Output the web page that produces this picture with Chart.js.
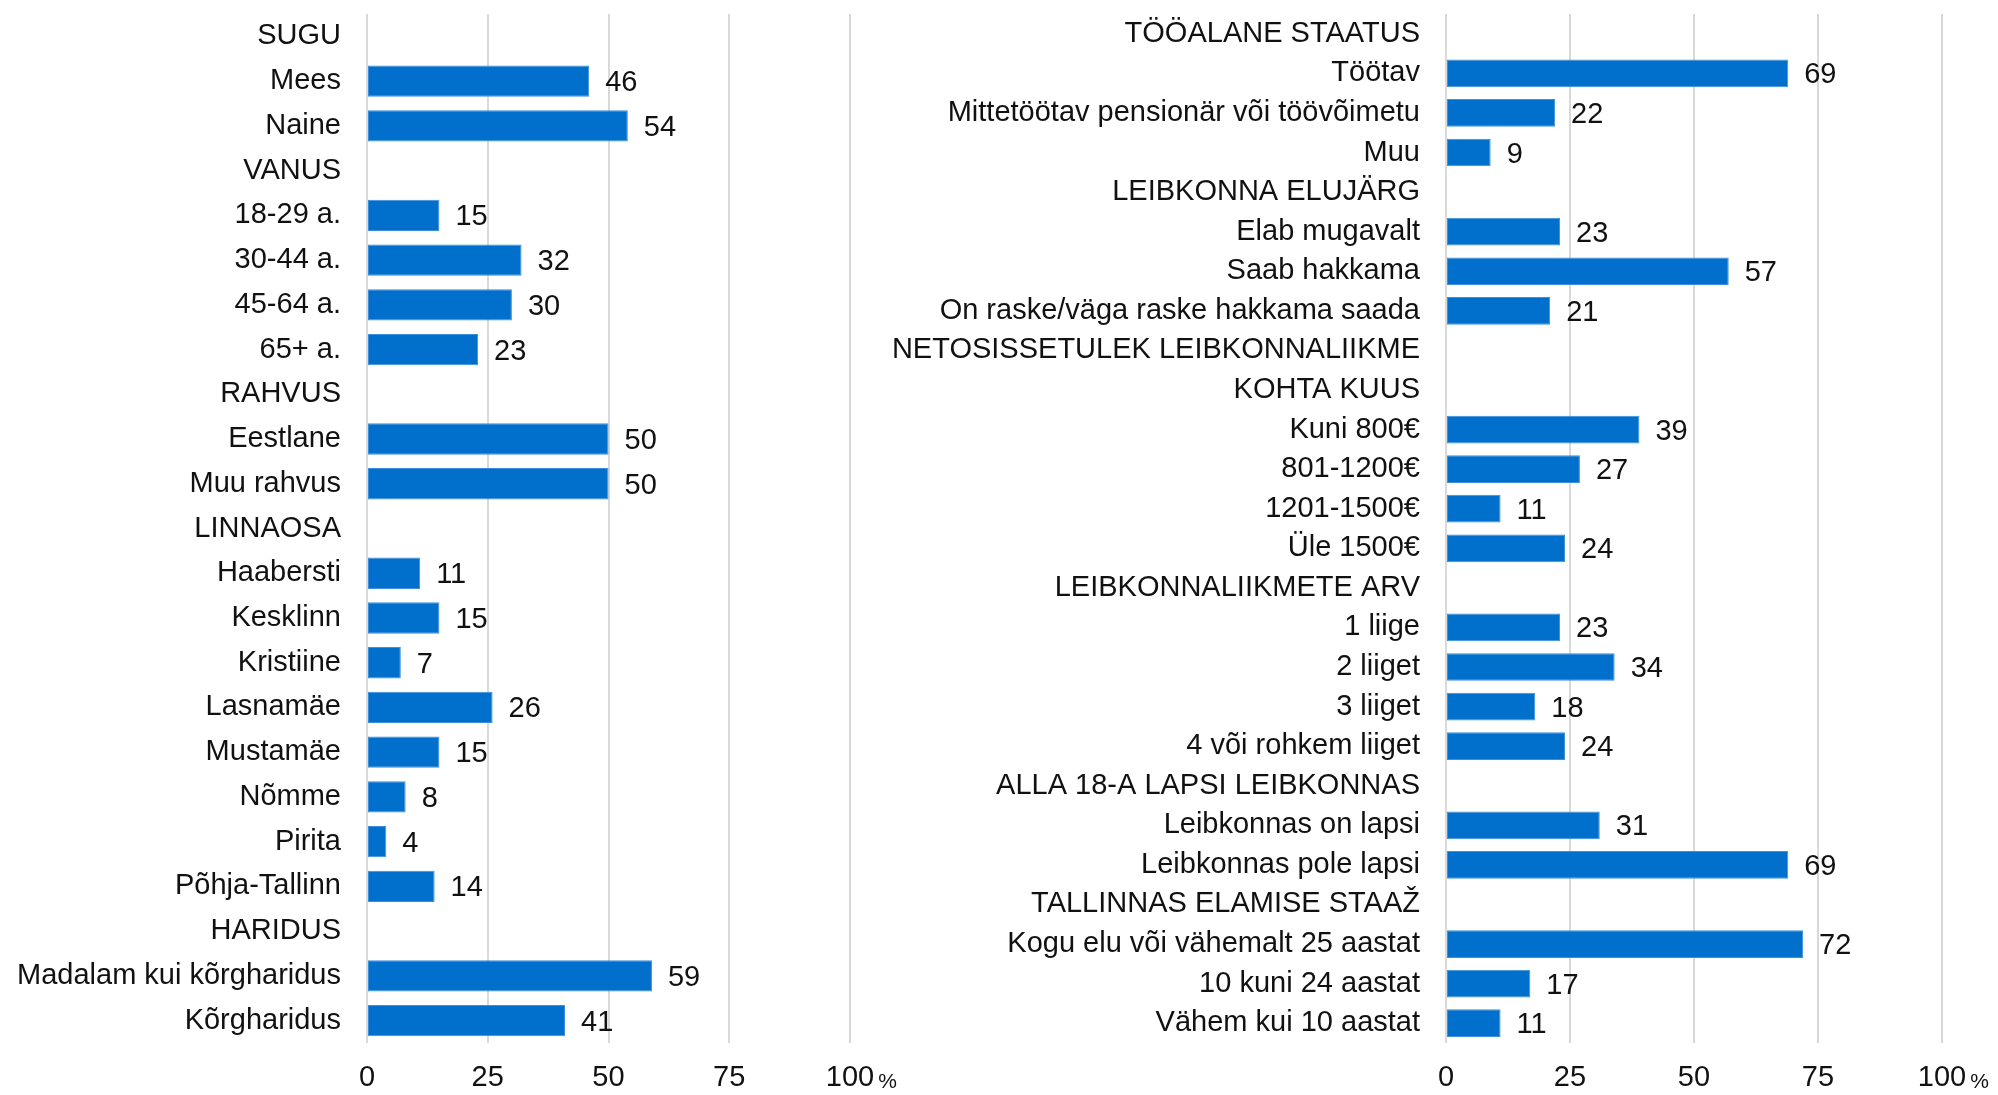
<!DOCTYPE html>
<html>
<head>
<meta charset="utf-8">
<script src="https://cdn.jsdelivr.net/npm/chart.js@4.4.0/dist/chart.umd.min.js"></script>
<style>
  html, body { margin: 0; padding: 0; background: #fff; }
  #wrap { position: relative; width: 1998px; height: 1095px; }
  .pane { position: absolute; top: 0; }
</style>
</head>
<body>
<div id="wrap">
  <div class="pane" style="left:0"><canvas id="leftChart" width="900" height="1095"></canvas></div>
  <div class="pane" style="left:860px"><canvas id="rightChart" width="1138" height="1095"></canvas></div>
</div>
<script>
// Left panel: categories and shares (%), headers have no value
const leftLabels = ['SUGU', 'Mees', 'Naine', 'VANUS', '18-29 a.', '30-44 a.', '45-64 a.', '65+ a.',
  'RAHVUS', 'Eestlane', 'Muu rahvus', 'LINNAOSA', 'Haabersti', 'Kesklinn', 'Kristiine', 'Lasnamäe',
  'Mustamäe', 'Nõmme', 'Pirita', 'Põhja-Tallinn', 'HARIDUS', 'Madalam kui kõrgharidus', 'Kõrgharidus'];
const leftValues = [null, 46, 54, null, 15, 32, 30, 23,
  null, 50, 50, null, 11, 15, 7, 26,
  15, 8, 4, 14, null, 59, 41];

// Right panel
const rightLabels = ['TÖÖALANE STAATUS', 'Töötav', 'Mittetöötav pensionär või töövõimetu', 'Muu',
  'LEIBKONNA ELUJÄRG', 'Elab mugavalt', 'Saab hakkama', 'On raske/väga raske hakkama saada',
  'NETOSISSETULEK LEIBKONNALIIKME', 'KOHTA KUUS', 'Kuni 800€', '801-1200€', '1201-1500€', 'Üle 1500€',
  'LEIBKONNALIIKMETE ARV', '1 liige', '2 liiget', '3 liiget', '4 või rohkem liiget',
  'ALLA 18-A LAPSI LEIBKONNAS', 'Leibkonnas on lapsi', 'Leibkonnas pole lapsi',
  'TALLINNAS ELAMISE STAAŽ', 'Kogu elu või vähemalt 25 aastat', '10 kuni 24 aastat', 'Vähem kui 10 aastat'];
const rightValues = [null, 69, 22, 9,
  null, 23, 57, 21,
  null, null, 39, 27, 11, 24,
  null, 23, 34, 18, 24,
  null, 31, 69,
  null, 72, 17, 11];

const xTicks = [0, 25, 50, 75, 100];

const FONT = "'Liberation Sans', Arial, sans-serif";
const TEXT = '#111111';
const BAR = '#0070cc';

// Value labels right after the bar end
const valueLabels = {
  id: 'valueLabels',
  afterDatasetsDraw(chart) {
    const ctx = chart.ctx;
    const meta = chart.getDatasetMeta(0);
    const data = chart.data.datasets[0].data;
    ctx.save();
    ctx.font = '29px ' + FONT;
    ctx.fillStyle = TEXT;
    ctx.textAlign = 'left';
    ctx.textBaseline = 'middle';
    meta.data.forEach((bar, i) => {
      if (data[i] == null) return;
      ctx.fillText(String(data[i]), bar.x + 16, bar.y + 2);
    });
    ctx.restore();
  }
};

// Small "%" sign next to the last tick
const percentSign = {
  id: 'percentSign',
  afterDraw(chart) {
    const ctx = chart.ctx;
    const x = chart.scales.x;
    ctx.save();
    ctx.font = '29px ' + FONT;
    const w = ctx.measureText('100').width;
    ctx.font = '21px ' + FONT;
    ctx.fillStyle = TEXT;
    ctx.textAlign = 'left';
    ctx.textBaseline = 'alphabetic';
    ctx.fillText('%', x.getPixelForValue(100) + w / 2 + 4, chart.chartArea.bottom + 45);
    ctx.restore();
  }
};

function makeChart(id, labels, values, axisWidth, rightPad) {
  const ctx = document.getElementById(id).getContext('2d');
  return new Chart(ctx, {
    type: 'bar',
    data: {
      labels: labels,
      datasets: [{
        data: values,
        backgroundColor: BAR,
        borderColor: '#3d8fdb',
        borderWidth: 1,
        borderSkipped: false,
        categoryPercentage: 1,
        barPercentage: 0.7
      }]
    },
    options: {
      indexAxis: 'y',
      responsive: false,
      animation: false,
      devicePixelRatio: 1,
      layout: { padding: { top: 14, right: rightPad, bottom: 0, left: 0 } },
      plugins: {
        legend: { display: false },
        tooltip: { enabled: false }
      },
      scales: {
        x: {
          min: 0,
          max: 100,
          afterBuildTicks(scale) {
            scale.ticks = xTicks.map(v => ({ value: v }));
          },
          afterFit(scale) {
            scale.height = 52;
            scale.paddingLeft = 0;
            scale.paddingRight = 0;
          },
          grid: { color: '#d9d9d9', lineWidth: 2, drawTicks: false },
          border: { display: false },
          ticks: {
            padding: 18,
            color: TEXT,
            font: { family: FONT, size: 29 },
            maxRotation: 0
          }
        },
        y: {
          afterFit(scale) {
            scale.width = axisWidth;
            scale.paddingTop = 0;
            scale.paddingBottom = 0;
          },
          grid: { display: false, drawTicks: false },
          border: { display: false },
          ticks: {
            padding: 26,
            color: TEXT,
            autoSkip: false,
            font: { family: FONT, size: 29 }
          }
        }
      }
    },
    plugins: [valueLabels, percentSign]
  });
}

makeChart('leftChart', leftLabels, leftValues, 367, 50);
makeChart('rightChart', rightLabels, rightValues, 586, 56);
</script>
</body>
</html>
